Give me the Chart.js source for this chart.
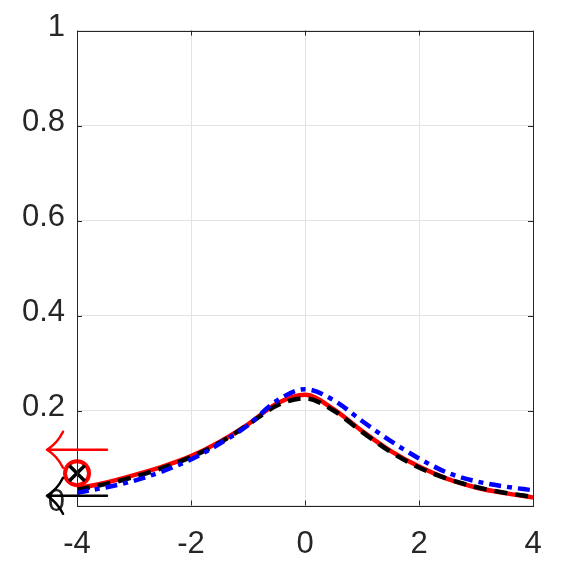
<!DOCTYPE html>
<html>
<head>
<meta charset="utf-8">
<script src="https://cdn.jsdelivr.net/npm/chart.js@4"></script>
<style>
  body { margin: 0; background: #fff; }
  #wrap { width: 571px; height: 571px; }
</style>
</head>
<body>
<div id="wrap"><canvas id="plot" width="571" height="571"></canvas></div>
<script>
const xValues = [-4, -3.5, -3, -2.5, -2, -1.5, -1, -0.5, 0, 0.5, 1, 1.5, 2, 2.5, 3, 3.5, 4];
const redY   = [0.036, 0.048, 0.064, 0.082, 0.104, 0.134, 0.171, 0.214, 0.233, 0.203, 0.157, 0.115, 0.082, 0.056, 0.038, 0.026, 0.017];
const blackY = [0.033, 0.045, 0.060, 0.079, 0.102, 0.132, 0.170, 0.210, 0.226, 0.200, 0.155, 0.113, 0.080, 0.056, 0.039, 0.027, 0.018];
const blueY  = [0.027, 0.038, 0.052, 0.072, 0.097, 0.130, 0.169, 0.220, 0.245, 0.222, 0.178, 0.136, 0.099, 0.069, 0.051, 0.040, 0.032];

const markerX = [-4];
const markerY = [0.068];

// arrows: tip and tail x, y level, colour
const arrowTipX = -4.526;
const arrowTailX = -3.474;
const arrowY = [0.1175, 0.0204];
const arrowColors = ['#ff0000', '#000000'];

const xTicks = [-4, -2, 0, 2, 4];
const yTicks = [0, 0.2, 0.4, 0.6, 0.8, 1];

function toPoints(xs, ys) {
    return xs.map((x, i) => ({x: x, y: ys[i]}));
}

const axisColor = '#262626';
const fontSpec = {family: 'Liberation Sans', size: 31};

const framePlugin = {
    id: 'frame',
    afterDatasetsDraw(chart) {
        const ctx = chart.ctx;
        const a = chart.chartArea;
        const xs = chart.scales.x, ys = chart.scales.y;
        ctx.save();
        ctx.strokeStyle = axisColor;
        ctx.lineWidth = 1;
        ctx.strokeRect(Math.round(a.left) + 0.5, Math.round(a.top) + 0.5,
            Math.round(a.right) - Math.round(a.left), Math.round(a.bottom) - Math.round(a.top));
        ctx.beginPath();
        xTicks.forEach(v => {
            const px = Math.round(xs.getPixelForValue(v)) + 0.5;
            ctx.moveTo(px, a.bottom); ctx.lineTo(px, a.bottom - 5);
            ctx.moveTo(px, a.top); ctx.lineTo(px, a.top + 5);
        });
        yTicks.forEach(v => {
            const py = Math.round(ys.getPixelForValue(v)) + 0.5;
            ctx.moveTo(a.left, py); ctx.lineTo(a.left + 5, py);
            ctx.moveTo(a.right, py); ctx.lineTo(a.right - 5, py);
        });
        ctx.stroke();

        // text-style left arrows
        ctx.lineWidth = 2.5;
        ctx.lineCap = 'round';
        arrowY.forEach((yv, i) => {
            const py = ys.getPixelForValue(yv);
            const tip = xs.getPixelForValue(arrowTipX);
            const tail = xs.getPixelForValue(arrowTailX);
            ctx.strokeStyle = arrowColors[i];
            ctx.beginPath();
            ctx.moveTo(tail, py); ctx.lineTo(tip, py);
            ctx.moveTo(tip, py); ctx.quadraticCurveTo(tip + 10, py - 6, tip + 16, py - 18);
            ctx.moveTo(tip, py); ctx.quadraticCurveTo(tip + 10, py + 6, tip + 16, py + 18);
            ctx.stroke();
        });
        ctx.restore();
    }
};

new Chart(document.getElementById('plot'), {
    type: 'scatter',
    data: {
        datasets: [
            {data: toPoints(xValues, redY), showLine: true, borderColor: '#ff0000', borderWidth: 4.5,
             pointRadius: 0, cubicInterpolationMode: 'monotone', order: 4},
            {data: toPoints(xValues, blackY), showLine: true, borderColor: '#000000', borderWidth: 4.5,
             borderDash: [13, 8], pointRadius: 0, cubicInterpolationMode: 'monotone', order: 3},
            {data: toPoints(xValues, blueY), showLine: true, borderColor: '#0000ff', borderWidth: 4.5,
             borderDash: [12, 6, 5, 6], pointRadius: 0, cubicInterpolationMode: 'monotone', order: 2},
            {data: toPoints(markerX, markerY), pointStyle: 'circle', pointRadius: 12, borderWidth: 4,
             borderColor: '#ff0000', backgroundColor: 'rgba(0,0,0,0)', clip: false, order: 1},
            {data: toPoints(markerX, markerY), pointStyle: 'crossRot', pointRadius: 11, borderWidth: 3.5,
             borderColor: '#000000', clip: false, order: 0}
        ]
    },
    options: {
        responsive: false,
        animation: false,
        devicePixelRatio: 1,
        layout: {padding: {top: 25, right: 38, left: 0, bottom: 0}},
        plugins: {legend: {display: false}, tooltip: {enabled: false}},
        scales: {
            x: {
                type: 'linear', min: -4, max: 4,
                afterFit: s => { s.height = 65.5; },
                afterBuildTicks: s => { s.ticks = xTicks.map(v => ({value: v})); },
                ticks: {color: axisColor, font: fontSpec, padding: 20, maxRotation: 0,
                        callback: v => String(v)},
                grid: {color: '#e3e3e3', drawTicks: false},
                border: {display: false}
            },
            y: {
                min: 0, max: 1,
                afterFit: s => { s.width = 77; },
                afterBuildTicks: s => { s.ticks = yTicks.map(v => ({value: v})); },
                ticks: {color: axisColor, font: fontSpec, padding: 12, labelOffset: -3,
                        callback: v => String(+v.toFixed(1))},
                grid: {color: '#e3e3e3', drawTicks: false},
                border: {display: false}
            }
        }
    },
    plugins: [framePlugin]
});
</script>
</body>
</html>
